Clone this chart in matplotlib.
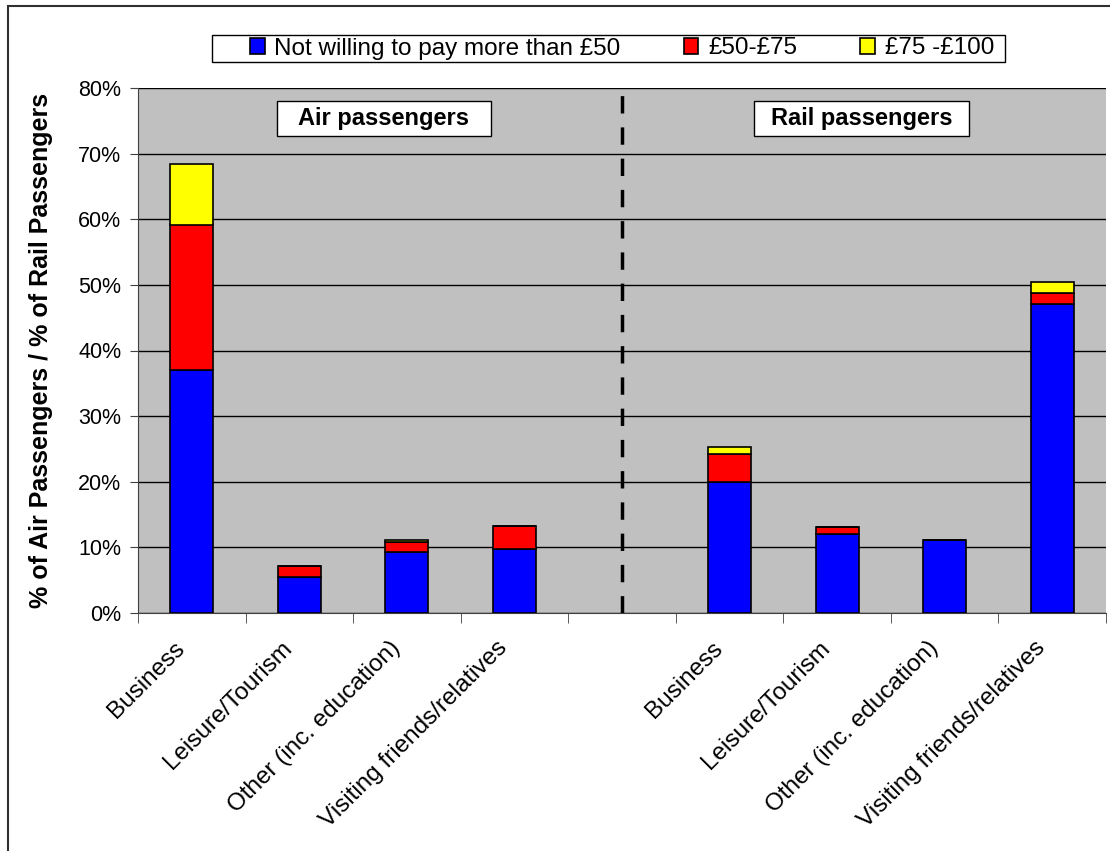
import matplotlib.pyplot as plt
import numpy as np
from matplotlib.patches import Rectangle
from matplotlib.ticker import PercentFormatter
from matplotlib.transforms import ScaledTranslation

plt.rcParams['font.family'] = ['Liberation Sans', 'DejaVu Sans']

categories = ['Business', 'Leisure/Tourism', 'Other (inc. education)', 'Visiting friends/relatives']
air_under50 = [37.0, 5.5, 9.3, 9.7]
air_50_75 = [22.2, 1.7, 1.5, 3.6]
air_75_100 = [9.2, 0.0, 0.3, 0.0]
rail_under50 = [20.0, 12.0, 11.2, 47.1]
rail_50_75 = [4.2, 1.1, 0.0, 1.7]
rail_75_100 = [1.1, 0.0, 0.0, 1.7]
series_names = ['Not willing to pay more than £50', '£50-£75', '£75 -£100']
series_colors = ['#0000ff', '#ff0000', '#ffff00']

# air groups in slots 0-3, empty slot 4, rail groups in slots 5-8
x = np.array([0, 1, 2, 3, 5, 6, 7, 8])
labels = categories + categories
layers = [air_under50 + rail_under50, air_50_75 + rail_50_75, air_75_100 + rail_75_100]

W, H = 1110, 851
fig = plt.figure(figsize=(W / 100, H / 100), dpi=100)
ax = fig.add_axes([138 / W, 1 - 613 / H, 968 / W, 525 / H])
ax.set_facecolor('#c0c0c0')

bottom = np.zeros(len(x))
handles = []
for vals, name, col in zip(layers, series_names, series_colors):
    vals = np.array(vals)
    b = ax.bar(x, vals, 0.4, bottom=bottom, color=col, edgecolor='black',
               linewidth=1.2, label=name, zorder=3)
    handles.append(b)
    bottom += vals

ax.set_xlim(-0.5, 8.5)
ax.set_ylim(0, 80)
ax.yaxis.set_major_formatter(PercentFormatter(decimals=0))
ax.set_yticks(np.arange(0, 81, 10))
ax.grid(axis='y', color='black', linewidth=1, zorder=1)
ax.set_axisbelow(True)

# category labels, ticks drawn at slot boundaries
ax.set_xticks(x)
ax.set_xticklabels(labels, rotation=45, ha='right', rotation_mode='anchor', fontsize=17.5)
ax.tick_params(axis='x', which='major', length=0, pad=3)
shift = ScaledTranslation(-18 / 100, -20 / 100, fig.dpi_scale_trans)
for lbl in ax.get_xticklabels():
    lbl.set_transform(lbl.get_transform() + shift)
ax.set_xticks(np.arange(-0.5, 9.0, 1), minor=True)
ax.tick_params(axis='x', which='minor', length=7, color='#404040')
ax.tick_params(axis='y', labelsize=15.5, length=6, color='#404040', pad=6)
for side in ['top', 'right']:
    ax.spines[side].set_visible(False)
ax.spines['left'].set_color('#404040')
ax.spines['bottom'].set_color('#404040')

ax.set_ylabel('% of Air Passengers / % of Rail Passengers', fontsize=18,
              fontweight='bold', labelpad=18)

# separator between air and rail groups
ax.axvline(4, color='black', linewidth=2.5, linestyle=(0, (5, 4)), zorder=4)

# group title boxes
for x0, x1, title in [(0.79, 2.78, 'Air passengers'), (5.23, 7.23, 'Rail passengers')]:
    ax.add_patch(Rectangle((x0, 72.7), x1 - x0, 5.3, facecolor='white',
                           edgecolor='black', linewidth=1, zorder=5))
    ax.text((x0 + x1) / 2, 75.35, title, ha='center', va='center', fontsize=17,
            fontweight='bold', zorder=6)

# legend box along the top
fig.patches.append(Rectangle((212 / W, 1 - 62 / H), 793 / W, 27 / H,
                             transform=fig.transFigure, facecolor='white',
                             edgecolor='black', linewidth=1))
leg = fig.legend(handles=handles, loc='center', bbox_to_anchor=(622 / W, 1 - 48.5 / H),
                 ncol=3, fontsize=17.5, frameon=False,
                 handlelength=0.6, handleheight=0.6, handletextpad=0.4, columnspacing=2.6,
                 borderpad=0, borderaxespad=0)

# outer chart border
fig.patches.append(Rectangle((8 / W, -0.05), 1.1, 1 - 6 / H + 0.05,
                             transform=fig.transFigure, fill=False,
                             edgecolor='#303030', linewidth=1.5))

fig.savefig('out.png', dpi=100)
